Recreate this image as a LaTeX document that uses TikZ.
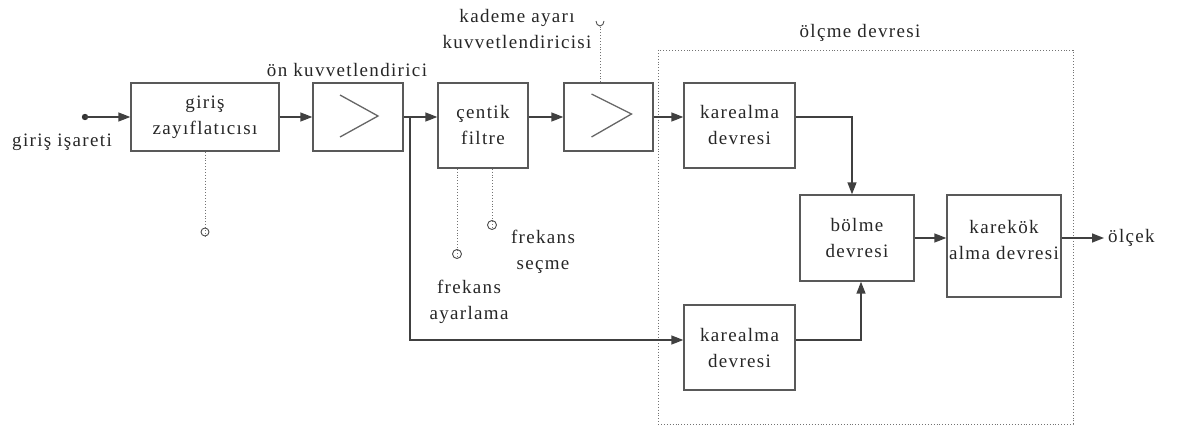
\documentclass[tikz,border=0pt]{standalone}
\usepackage{fontspec}
\setmainfont{Liberation Serif}
\newfontfamily\diagfont{Liberation Serif}[LetterSpace=7]
\usetikzlibrary{arrows.meta}
\begin{document}
\begin{tikzpicture}[x=1pt,y=-1pt,
  every node/.style={font=\diagfont\fontsize{19}{26}\selectfont, text=black!85},
  blk/.style={draw=black!65, line width=1.4pt, fill=white, inner sep=0pt, align=center},
  sig/.style={draw=black!75, line width=1.5pt},
  arr/.style={sig, -{Triangle[length=12pt,width=9pt]}},
  dot/.style={draw=black!55, line width=0.9pt, dotted},
  chev/.style={draw=black!60, line width=1.3pt},
  lbl/.style={align=center, inner sep=0pt}]
\useasboundingbox (0,0) rectangle (1195,428);

% measuring frame
\draw[dot] (658,50) rectangle (1073,424);

% blocks
\node[blk, minimum width=148pt, minimum height=68pt] (giris) at (205,117) {giriş\\zayıflatıcısı};
\node[blk, minimum width=90pt, minimum height=68pt] (on) at (358,117) {};
\node[blk, minimum width=90pt, minimum height=85pt] (cen) at (483,125.5) {çentik\\filtre};
\node[blk, minimum width=89pt, minimum height=68pt] (kad) at (608.5,117) {};
\node[blk, minimum width=111pt, minimum height=85pt] (kt) at (739.5,125.5) {karealma\\devresi};
\node[blk, minimum width=111pt, minimum height=85pt] (kb) at (739.5,347.5) {karealma\\devresi};
\node[blk, minimum width=114pt, minimum height=86pt] (bol) at (857,238) {bölme\\devresi};
\node[blk, minimum width=114pt, minimum height=102pt] (kk) at (1004,246) {};
\node[lbl] (kkt) at (1004,240) {karekök\\alma devresi};

% chevrons
\draw[chev] ([shift={(-18,-22)}]on.center) -- ([shift={(20,-1)}]on.center) -- ([shift={(-18,20)}]on.center);
\draw[chev] ([shift={(-17,-23)}]kad.center) -- ([shift={(23,-3)}]kad.center) -- ([shift={(-17,20)}]kad.center);

% labels
\node[lbl] (gi) at (62,142) {giriş işareti};
\node[lbl] (onl) at (347,70) {ön kuvvetlendirici};
\node[lbl] (kadl) at (517,29) {kademe ayarı\\kuvvetlendiricisi};
\node[lbl] (olc) at (860,33) {ölçme devresi};
\node[lbl] (fs) at (543,252) {frekans\\seçme};
\node[lbl] (fa) at (469,302) {frekans\\ayarlama};
\node[lbl, anchor=west] (olcek) at (1108,238) {ölçek};

% input
\coordinate (in) at (85,117);
\fill[black!80] (in) circle (3.2pt);
\draw[arr] (in) -- (in -| giris.west);

% main chain
\draw[arr] (giris.east) -- (on.west);
\draw[arr] (on.east) -- (on.east -| cen.west);
\draw[arr] (cen.east |- kad.west) -- (kad.west);
\draw[arr] (kad.east) -- (kad.east -| kt.west);
\coordinate (br) at (410,117);
\draw[arr] (br) |- ([yshift=7.5pt]kb.west);
\draw[arr] (kt.east |- kad.east) -| ([xshift=-5pt]bol.north);
\draw[arr] ([yshift=7.5pt]kb.east) -| ([xshift=4pt]bol.south);
\draw[arr] (bol.east) -- (bol.east -| kk.west);
\draw[arr] (kk.east |- bol.east) -- ([xshift=-4pt]olcek.west);

% control terminals
\coordinate (c1) at (205,232);
\draw[dot] (giris.south) -- ([yshift=-4pt]c1);
\draw[black!70, line width=0.9pt] (c1) circle (4pt);
\coordinate (c2) at (457,254);
\draw[dot] (cen.south -| c2) -- ([yshift=-4.5pt]c2);
\draw[black!70, line width=0.9pt] (c2) circle (4.5pt);
\coordinate (c3) at (492,225);
\draw[dot] (cen.south -| c3) -- ([yshift=-4.5pt]c3);
\draw[black!70, line width=0.9pt] (c3) circle (4.5pt);
\coordinate (c4) at (600,27);
\draw[dot] (kad.north -| c4) -- (c4);
\draw[black!70, line width=0.9pt] (596,21) arc[start angle=180, end angle=0, x radius=4pt, y radius=-5pt];
\end{tikzpicture}
\end{document}
